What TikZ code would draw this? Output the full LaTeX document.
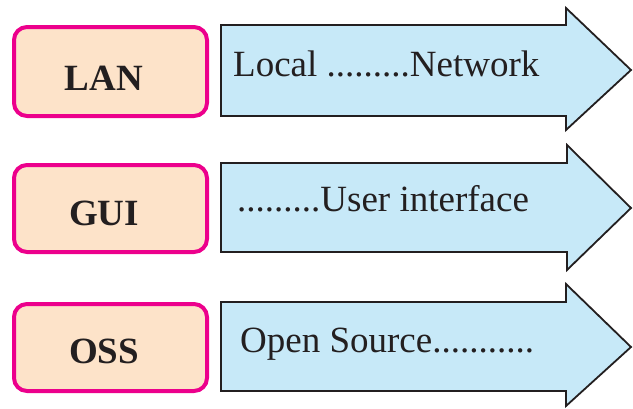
\documentclass[tikz,border=0pt]{standalone}
\usepackage{fontspec}
\setmainfont{Liberation Serif}
\definecolor{pinkline}{HTML}{EC008C}
\definecolor{peach}{HTML}{FDE3C9}
\definecolor{skyfill}{HTML}{C7E9F8}
\definecolor{darkline}{HTML}{231F20}
\tikzset{
  labelbox/.style={draw=pinkline, fill=peach, line width=4pt, rounded corners=13pt},
  arrowshape/.style={draw=darkline, fill=skyfill, line width=1.8pt, line join=miter},
  boldlabel/.style={font=\fontsize{37}{40}\selectfont\bfseries, text=darkline, inner sep=0pt, anchor=base},
  arrowtext/.style={font=\fontsize{37}{40}\selectfont, text=darkline, inner sep=0pt, anchor=base west}
}
\begin{document}
\begin{tikzpicture}[x=1pt,y=-1pt]
\useasboundingbox (0,0) rectangle (633,408);
% row 1
\draw[labelbox] (14,27) rectangle (207,116);
\draw[arrowshape] (221,25) -- (566,25) -- (566,8) -- (631,70) -- (566,130) -- (566,116) -- (221,116) -- cycle;
\node[boldlabel] (lan) at (104,90) {LAN};
\node[arrowtext] (t1) at (233,76) {Local .........Network};
% row 2
\draw[labelbox] (14,165) rectangle (207,252);
\draw[arrowshape] (221,163) -- (567,163) -- (567,145) -- (631,208) -- (567,270) -- (567,252) -- (221,252) -- cycle;
\node[boldlabel] (gui) at (104,225) {GUI};
\node[arrowtext] (t2) at (237,211) {.........User interface};
% row 3
\draw[labelbox] (14,304) rectangle (207,391);
\draw[arrowshape] (221,302) -- (566,302) -- (566,284) -- (631,347) -- (566,406) -- (566,391) -- (221,391) -- cycle;
\node[boldlabel] (oss) at (104,363) {OSS};
\node[arrowtext] (t3) at (240,352) {Open Source...........};
\end{tikzpicture}
\end{document}
